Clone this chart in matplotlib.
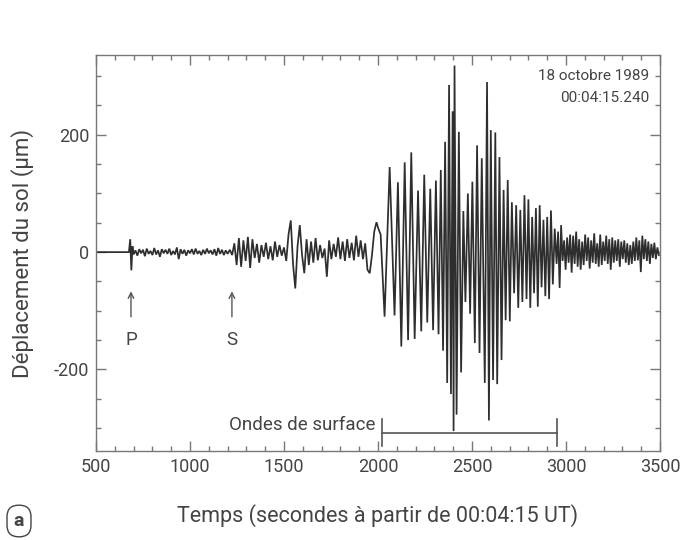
import numpy as np
import matplotlib
matplotlib.use("Agg")
import matplotlib.pyplot as plt
from matplotlib.ticker import MultipleLocator

plt.rcParams['font.family'] = ['Roboto', 'DejaVu Sans']
plt.rcParams['axes.unicode_minus'] = False

# ---------------- data ----------------
# quiet before P and the P arrival (time s, displacement µm)
pre_t = [500, 675, 682, 688, 694]
pre_v = [0, 0, 22, -31, 10]

# P coda noise, sampled every 10 s from 700 s
coda_start, coda_step = 700, 10
coda_v = [-4, 3, -6, 5, -2, 4, -7, 6, -3, 2, -5, 7, -4, 3, -8, 5, -2, 4, -3, 6,
          -5, 2, -4, 8, -12, 5, -3, 4, -6, 3, -2, 5, -4, 6, -3, 2, -5, 4, -3, 6,
          -2, 3, -4, 5, -6, 7, -3, 4, -5, 3]

# S arrival and body-wave section, sampled every 12 s from 1200 s
s_start, s_step = 1200, 12
s_v = [-3, 4, -5, 15, -22, 24, -25, 20, -15, 26, -27, 22, -10, 14, -18, 12, -8, 16,
       -12, 10, -14, 18, -8, 12, -6, 8, -15, 30, 54, -20, -62, 10, 46, -5, -36, 22,
       -22, 18, -18, 24, -14, 12, -10, 6, -42, 20, -12, 14, -8, 25, -12, 18, -15, 22,
       -10, 16, -14, 28, -8, 20, -12, 15, -30, -36, -5, 35, 51]

# surface waves: extrema (time s, displacement µm)
surf_t = [2002, 2014, 2035, 2062, 2088, 2106, 2124, 2142, 2160, 2177, 2195, 2213,
          2230, 2246, 2262, 2278, 2293, 2308, 2322, 2334, 2346, 2357, 2368, 2378,
          2388, 2397, 2402, 2407, 2418, 2430, 2442, 2454, 2465, 2478, 2490, 2502,
          2515, 2527, 2540, 2552, 2568, 2580, 2590, 2600, 2612, 2624, 2634, 2646,
          2657, 2668, 2679, 2690, 2701, 2712, 2724, 2735, 2746, 2757, 2768, 2779,
          2790, 2800, 2810, 2820, 2830, 2840, 2850, 2860, 2870, 2880, 2890, 2900,
          2910, 2920, 2930, 2940]
surf_v = [40, 30, -110, 145, -108, 119, -161, 153, -150, 170, -148, 105,
          -135, 132, -120, 108, -133, 122, -140, 140, -168, 188, -223, 285,
          -242, 240, -305, 318, -277, 205, -205, 70, -85, 100, -105, 120,
          -155, 182, -172, 160, -223, 290, -287, 208, -218, 204, -225, 162,
          -184, 106, -116, 123, -118, 85, -70, 80, -95, 72, -85, 97,
          -80, 90, -95, 60, -70, 75, -93, 80, -60, 55, -75, 60,
          -80, 71, -55, 40]

# late coda, sampled every 8 s from 2950 s
late_start, late_step = 2950, 8
late_v = [-20, 35, -61, 46, -15, 20, -30, 25, -18, 30, -35, 28, -20, 35, -25, 22,
          -30, 18, -22, 30, -15, 25, -28, 20, -18, 32, -20, 15, -25, 30, -22, 18,
          -15, 28, -20, 22, -30, 25, -18, 20, -15, 22, -25, 18, -12, 20, -18, 15,
          -22, 12, -20, 18, -15, 25, -14, 20, -34, 28, -12, 22, -15, 18, -20, 14,
          -10, 16, -12, 8, -5]

x_ticks = [500, 1000, 1500, 2000, 2500, 3000, 3500]
y_ticks = [-200, 0, 200]

# phase markers and surface-wave window
p_time, s_time = 686, 1223
surf_window = (2020, 2950)

# ---------------- assemble trace ----------------
t = np.concatenate([
    np.array(pre_t, float),
    coda_start + coda_step * np.arange(len(coda_v)),
    s_start + s_step * np.arange(len(s_v)),
    np.array(surf_t, float),
    late_start + late_step * np.arange(len(late_v)),
])
v = np.concatenate([pre_v, coda_v, s_v, surf_v, late_v]).astype(float)

# ---------------- figure ----------------
fig = plt.figure(figsize=(6.8, 5.4), dpi=100)
ax = fig.add_axes([96/680, 89/540, 564/680, 396/540])

txt = '#444444'
spine = '#777777'
ax.plot(t, v, color='#2e2e2e', lw=1.25, solid_joinstyle='miter')

ax.set_xlim(500, 3500)
ax.set_ylim(-339, 336)
ax.set_xticks(x_ticks)
ax.set_yticks(y_ticks)
ax.xaxis.set_minor_locator(MultipleLocator(100))
ax.yaxis.set_minor_locator(MultipleLocator(50))
ax.tick_params(which='both', direction='in', top=True, right=True, color=spine,
               labelcolor=txt, labelsize=13, width=1.0)
ax.tick_params(which='major', length=7, pad=5)
ax.tick_params(which='minor', length=3.5)
for s in ax.spines.values():
    s.set_color(spine)
    s.set_linewidth(1.0)

ax.set_xlabel('Temps (secondes à partir de 00:04:15 UT)', fontsize=15.5,
              color=txt, labelpad=20)
ax.set_ylabel('Déplacement du sol (μm)', fontsize=16, color=txt, labelpad=14)

# date annotation
ax.text(3441, 300, '18 octobre 1989', ha='right', va='center', fontsize=11, color=txt)
ax.text(3441, 262, '00:04:15.240', ha='right', va='center', fontsize=11, color=txt)

# P and S arrows
for tm, lab in [(p_time, 'P'), (s_time, 'S')]:
    ax.annotate('', xy=(tm, -62), xytext=(tm, -115),
                arrowprops=dict(arrowstyle='->', color='#555555', lw=1.0))
    ax.text(tm, -150, lab, ha='center', va='center', fontsize=13.5, color=txt)

# surface-wave window bracket
ax.plot([surf_window[0], surf_window[1]], [-308, -308], color='#555555', lw=1.2)
for xe in surf_window:
    ax.plot([xe, xe], [-284, -330], color='#555555', lw=1.2)
ax.text(surf_window[0] - 35, -294, 'Ondes de surface', ha='right', va='center',
        fontsize=13.5, color=txt)

# panel letter
fig.text(19/680, 1 - 521/540, 'a', ha='center', va='center', fontsize=14,
         fontweight='bold', color=txt,
         bbox=dict(boxstyle='round,pad=0.35,rounding_size=0.6', fc='white',
                   ec='#444444', lw=1.0))

fig.savefig('out.png', dpi=100)
